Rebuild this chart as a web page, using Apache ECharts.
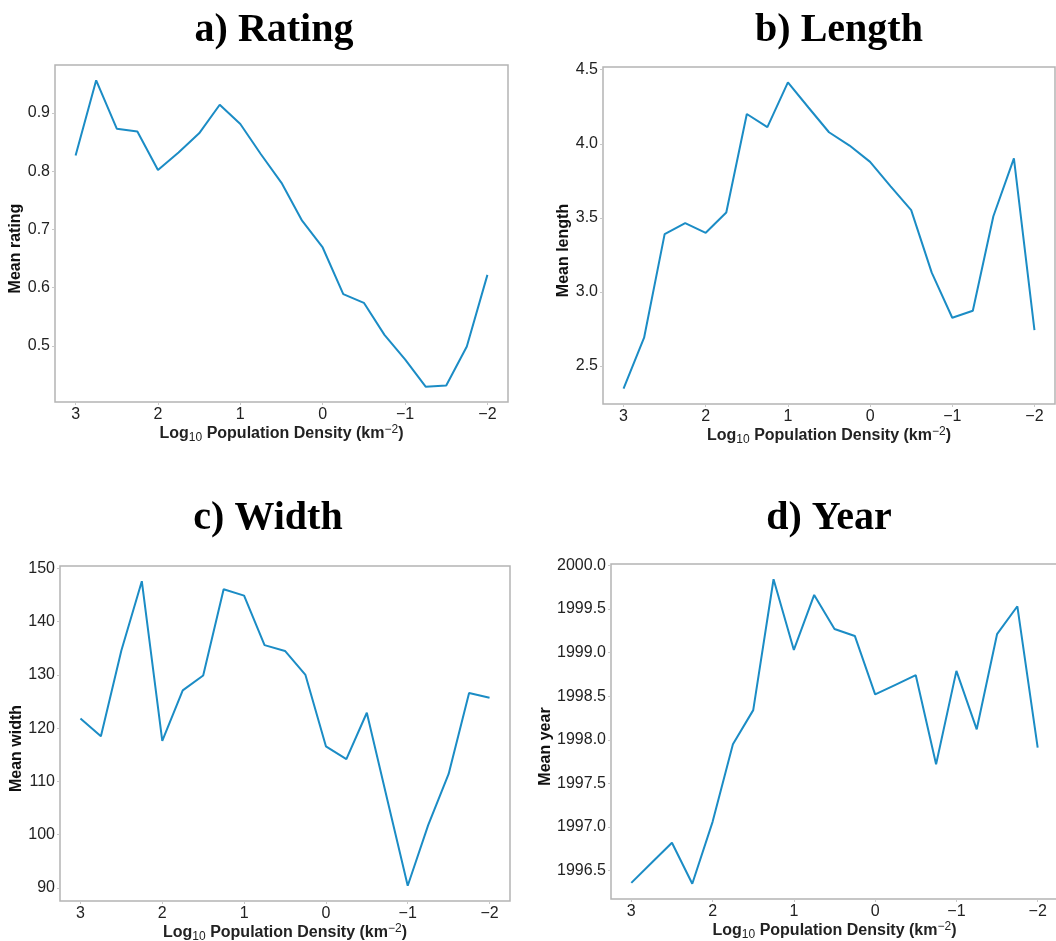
<!DOCTYPE html>
<html>
<head>
<meta charset="utf-8">
<script src="https://cdn.jsdelivr.net/npm/echarts@6/dist/echarts.min.js"></script>
<style>
  html, body { margin: 0; padding: 0; background: #ffffff; }
  #chart { width: 1056px; height: 941px; }
</style>
</head>
<body>
<div id="chart"></div>
<script>
// Log10 population density bins (km^-2), from dense to sparse
const densityLevels = [3, 2.75, 2.5, 2.25, 2, 1.75, 1.5, 1.25, 1, 0.75, 0.5, 0.25, 0,
  -0.25, -0.5, -0.75, -1, -1.25, -1.5, -1.75, -2];

const meanRating = [0.827, 0.956, 0.873, 0.868, 0.802, 0.832, 0.865, 0.914, 0.881, 0.829,
  0.780, 0.715, 0.669, 0.589, 0.574, 0.519, 0.477, 0.430, 0.432, 0.499, 0.622];

const meanLength = [2.347, 2.691, 3.390, 3.464, 3.399, 3.536, 4.201, 4.113, 4.415, 4.245,
  4.078, 3.988, 3.878, 3.713, 3.552, 3.130, 2.826, 2.873, 3.511, 3.902, 2.743];

const meanWidth = [121.8, 118.5, 134.6, 147.6, 117.6, 127.1, 129.9, 146.1, 144.9, 135.6,
  134.5, 130.0, 116.6, 114.2, 122.9, 106.6, 90.4, 101.8, 111.4, 126.6, 125.7];

const meanYear = [1996.36, 1996.59, 1996.82, 1996.35, 1997.06, 1997.95, 1998.34, 1999.84,
  1999.03, 1999.66, 1999.27, 1999.19, 1998.52, 1998.63, 1998.74, 1997.72, 1998.79,
  1998.12, 1999.21, 1999.53, 1997.91];

const xTicks = [3, 2, 1, 0, -1, -2];
const ratingTicks = [0.5, 0.6, 0.7, 0.8, 0.9];
const lengthTicks = [2.5, 3.0, 3.5, 4.0, 4.5];
const widthTicks = [90, 100, 110, 120, 130, 140, 150];
const yearTicks = [1996.5, 1997.0, 1997.5, 1998.0, 1998.5, 1999.0, 1999.5, 2000.0];

const panelTitles = ['a) Rating', 'b) Length', 'c) Width', 'd) Year'];
const yNames = ['Mean rating', 'Mean length', 'Mean width', 'Mean year'];

const SANS = '"Liberation Sans", Arial, sans-serif';
const SERIF = '"Liberation Serif", "Times New Roman", serif';
const LINE_COLOR = '#1b8cc5';
const FRAME_COLOR = '#b4b4b4';

// plot frames (px)
const grids = [
  { left: 55, top: 65, width: 453, height: 337 },
  { left: 603, top: 67, width: 452, height: 337 },
  { left: 60, top: 566, width: 450, height: 335 },
  { left: 611, top: 564, width: 447, height: 335 }
];
const titlePos = [[269, 6], [834, 6], [263, 494], [824, 494]];
const yNameGap = [27, 28, 32, 55];

const panels = [
  { values: meanRating, ticks: ratingTicks, digits: 1 },
  { values: meanLength, ticks: lengthTicks, digits: 1 },
  { values: meanWidth, ticks: widthTicks, digits: 0 },
  { values: meanYear, ticks: yearTicks, digits: 1 }
];

// matplotlib-style 5% padding around the data range
function paddedRange(arr) {
  const lo = Math.min.apply(null, arr), hi = Math.max.apply(null, arr);
  const pad = (hi - lo) * 0.05;
  return [lo - pad, hi + pad];
}
const xPad = (densityLevels[0] - densityLevels[densityLevels.length - 1]) * 0.05;

function signed(v) {
  return v < 0 ? '\u2212' + Math.abs(v) : String(v);
}

const xName = '{t|Log}{sub|10}{t| Population Density (km}{sup|\u22122}{t|)}';
const xNameRich = {
  t: { fontFamily: SANS, fontWeight: 'bold', fontSize: 16, color: '#222', lineHeight: 20 },
  sub: { fontFamily: SANS, fontWeight: 'normal', fontSize: 12, color: '#222', lineHeight: 12, verticalAlign: 'bottom' },
  sup: { fontFamily: SANS, fontWeight: 'normal', fontSize: 12, color: '#222', lineHeight: 12, verticalAlign: 'top' }
};

const option = {
  animation: false,
  backgroundColor: '#ffffff',
  title: panelTitles.map((t, i) => ({
    text: t,
    left: titlePos[i][0],
    top: titlePos[i][1],
    textAlign: 'center',
    textStyle: { fontFamily: SERIF, fontWeight: 'bold', fontSize: 40, color: '#000' }
  })),
  grid: grids.map(g => Object.assign({
    show: true,
    borderColor: FRAME_COLOR,
    borderWidth: 1.5,
    backgroundColor: 'transparent',
    containLabel: false,
    outerBoundsMode: 'none'
  }, g)),
  xAxis: grids.map((g, i) => ({
    gridIndex: i,
    type: 'value',
    inverse: true,
    min: densityLevels[densityLevels.length - 1] - xPad,
    max: densityLevels[0] + xPad,
    axisLine: { show: false, onZero: false },
    splitLine: { show: false },
    axisTick: { show: true, customValues: xTicks, length: 3, lineStyle: { color: '#c8c8c8', width: 1 } },
    axisLabel: {
      customValues: xTicks, formatter: signed, fontFamily: SANS, fontSize: 16,
      color: '#222', margin: 5
    },
    name: xName,
    nameLocation: 'middle',
    nameGap: 22,
    nameTextStyle: { rich: xNameRich }
  })),
  yAxis: panels.map((p, i) => {
    const r = paddedRange(p.values);
    return {
      gridIndex: i,
      type: 'value',
      min: r[0],
      max: r[1],
      axisLine: { show: false, onZero: false },
      splitLine: { show: false },
      axisTick: { show: true, customValues: p.ticks, length: 3, lineStyle: { color: '#c8c8c8', width: 1 } },
      axisLabel: {
        customValues: p.ticks,
        formatter: v => v.toFixed(p.digits),
        fontFamily: SANS, fontSize: 16, color: '#222', margin: 5
      },
      name: yNames[i],
      nameLocation: 'middle',
      nameGap: yNameGap[i],
      nameTextStyle: {
        fontFamily: SANS, fontWeight: 'bold', fontSize: 16, color: '#111',
        padding: [0, 30, 0, 0]
      }
    };
  }),
  series: panels.map((p, i) => ({
    type: 'line',
    xAxisIndex: i,
    yAxisIndex: i,
    data: densityLevels.map((x, k) => [x, p.values[k]]),
    showSymbol: false,
    symbol: 'none',
    clip: false,
    lineStyle: { color: LINE_COLOR, width: 2 }
  }))
};

const chart = echarts.init(document.getElementById('chart'), null, { renderer: 'canvas' });
chart.setOption(option);
</script>
</body>
</html>
